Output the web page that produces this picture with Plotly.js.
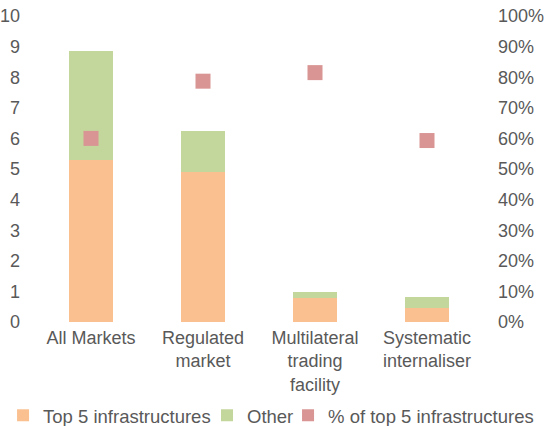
<!DOCTYPE html>
<html>
<head>
<meta charset="utf-8">
<script src="https://cdn.plot.ly/plotly-3.0.1.min.js"></script>
<style>html,body{margin:0;padding:0;background:#fff;}#chart{width:555px;height:426px;}</style>
</head>
<body>
<div id="chart"></div>
<script>
var categories = ["All Markets", "Regulated<br>market", "Multilateral<br>trading<br>facility", "Systematic<br>internaliser"];
var top5 = [5.30, 4.90, 0.79, 0.47];
var other = [3.56, 1.35, 0.19, 0.34];
var pctTop5 = [0.60, 0.787, 0.815, 0.593];
var leftTicks = [0,1,2,3,4,5,6,7,8,9,10];

var font = "Liberation Sans, Arial, sans-serif";
var traces = [
  {type:'bar', name:'Top 5 infrastructures', x:categories, y:top5, marker:{color:'#FAC090'}, hoverinfo:'y', legend:'legend'},
  {type:'bar', name:'Other', x:categories, y:other, marker:{color:'#C3D69B'}, hoverinfo:'y', legend:'legend2'},
  {type:'scatter', mode:'markers', name:'% of top 5 infrastructures', x:categories, y:pctTop5, yaxis:'y2', legend:'legend3',
   marker:{symbol:'square', size:15, color:'#D99594'}}
];
function leg(x){
  return {orientation:'h', xref:'container', x:x, xanchor:'left', yref:'container', y:0.024, yanchor:'middle',
          font:{size:18.5, color:'#595959'}, itemsizing:'constant', itemwidth:30,
          bgcolor:'rgba(0,0,0,0)', borderwidth:0};
}
var layout = {
  width:555, height:426,
  margin:{l:35, r:72, t:16, b:104},
  paper_bgcolor:'#fff', plot_bgcolor:'#fff',
  barmode:'stack', bargap:0.6,
  font:{family:font, size:18, color:'#595959'},
  showlegend:true,
  legend:leg(0.0055),
  legend2:leg(0.373),
  legend3:leg(0.519),
  xaxis:{showgrid:false, zeroline:false, showline:false, ticks:'', tickfont:{size:18}, ticklabelstandoff:3},
  yaxis:{range:[0,10], tickvals:leftTicks, showgrid:false, zeroline:false, showline:false, ticks:'', ticklabelstandoff:14},
  yaxis2:{range:[0,1], overlaying:'y', side:'right', dtick:0.1, tick0:0, tickformat:'.0%', showgrid:false, zeroline:false, showline:false, ticks:'', ticklabelstandoff:14}
};
Plotly.newPlot('chart', traces, layout, {displayModeBar:false, staticPlot:true});
</script>
</body>
</html>
